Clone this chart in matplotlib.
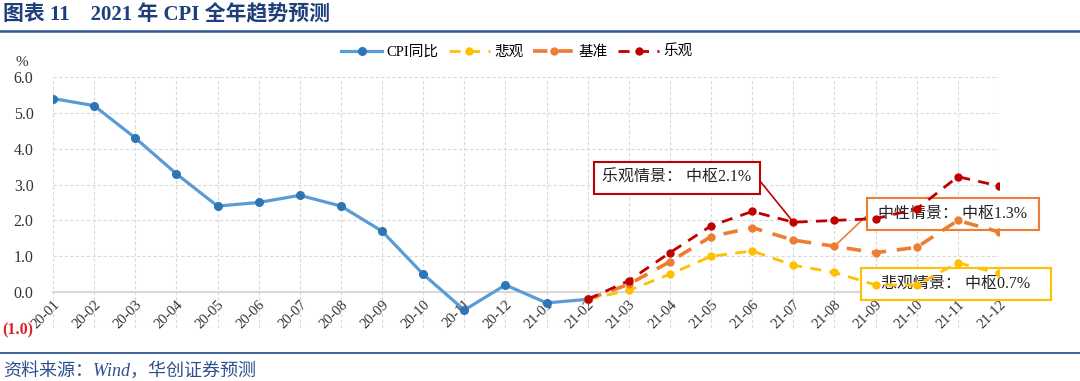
import matplotlib
matplotlib.use("Agg")
import matplotlib.pyplot as plt
from matplotlib.lines import Line2D

plt.rcParams['font.family'] = ['Liberation Serif', 'Noto Sans CJK SC', 'DejaVu Sans']

# ---------------- data ----------------
months = ["20-01", "20-02", "20-03", "20-04", "20-05", "20-06", "20-07", "20-08",
          "20-09", "20-10", "20-11", "20-12", "21-01", "21-02", "21-03", "21-04",
          "21-05", "21-06", "21-07", "21-08", "21-09", "21-10", "21-11", "21-12"]
cpi_actual = [5.4, 5.2, 4.3, 3.3, 2.4, 2.5, 2.7, 2.4, 1.7, 0.5, -0.5, 0.2, -0.3, -0.2]
forecast_months = months[13:]
pessimistic = [-0.2, 0.05, 0.5, 1.0, 1.15, 0.75, 0.55, 0.2, 0.2, 0.82, 0.52]
baseline = [-0.2, 0.22, 0.85, 1.55, 1.8, 1.45, 1.28, 1.1, 1.25, 2.0, 1.68]
optimistic = [-0.2, 0.32, 1.1, 1.85, 2.25, 1.95, 2.0, 2.05, 2.32, 3.22, 2.96]
series_names = ["CPI同比", "悲观", "基准", "乐观"]
y_ticks = [-1, 0, 1, 2, 3, 4, 5, 6]
y_ticklabels = ["(1.0)", "0.0", "1.0", "2.0", "3.0", "4.0", "5.0", "6.0"]
notes = ["乐观情景： 中枢2.1%", " 中性情景： 中枢1.3% ", "   悲观情景： 中枢0.7%   "]

# ---------------- figure ----------------
W, H = 1080, 381
fig = plt.figure(figsize=(W / 100, H / 100), dpi=100)
ax = fig.add_axes([53 / W, 1 - 328 / H, (999 - 53) / W, (328 - 77) / H])

c_blue, c_blue_m = "#5B9BD5", "#2E75B6"
c_yel, c_ora, c_red = "#FFC000", "#ED7D31", "#C00000"

xa = list(range(len(cpi_actual)))
xf = [months.index(m) for m in forecast_months]

ax.plot(xa, cpi_actual, color=c_blue, lw=2.3, marker="o", ms=5.5,
        mfc=c_blue_m, mec=c_blue_m, zorder=4, label=series_names[0])
ax.plot(xf, pessimistic, color=c_yel, lw=2.0, ls=(0, (4, 3)), marker="o", ms=5,
        mfc=c_yel, mec=c_yel, zorder=5, label=series_names[1])
ax.plot(xf, baseline, color=c_ora, lw=2.6, ls=(0, (4, 3)), marker="o", ms=5,
        mfc=c_ora, mec=c_ora, zorder=6, label=series_names[2])
ax.plot(xf, optimistic, color=c_red, lw=2.0, ls=(0, (4, 3)), marker="o", ms=5,
        mfc=c_red, mec=c_red, zorder=7, label=series_names[3])

ax.set_xlim(0, len(months) - 1)
ax.set_ylim(-1, 6)
ax.set_axisbelow(True)
ax.grid(True, color="#D9D9D9", lw=0.8, ls=(0, (3, 2)))
for s in ["top", "right", "left"]:
    ax.spines[s].set_visible(False)
ax.spines["bottom"].set_position(("data", 0))
ax.spines["bottom"].set_color("#D9D9D9")
ax.spines["bottom"].set_linewidth(1.5)

ax.set_xticks(range(len(months)))
ax.set_xticklabels(months, rotation=45, ha="right", va="top",
                   rotation_mode="anchor", fontsize=10.5, color="#333333")
ax.tick_params(axis="x", length=0, pad=4)
ax.set_yticks(y_ticks)
ax.set_yticklabels(y_ticklabels, fontsize=11.5, color="#333333")
ax.tick_params(axis="y", length=0, pad=14)
ax.get_yticklabels()[0].set_color("#E02020")
ax.get_yticklabels()[0].set_fontweight("bold")

fig.text(22 / W, 1 - 63 / H, "%", ha="center", va="center", fontsize=11, color="#333333")

# legend
fig.legend(loc="center", bbox_to_anchor=(517 / W, 1 - 52 / H), ncol=4, frameon=False,
           fontsize=10.5, handlelength=2.8, handletextpad=0.3, columnspacing=0.7)

# annotation boxes
box_kw = dict(boxstyle="square,pad=0.5", fc="white", lw=1.5)
ax.annotate(notes[0], xy=(months.index("21-07"), optimistic[5]),
            xytext=(677, H - 178), textcoords="figure pixels",
            ha="center", va="center", fontsize=11.5, color="#222222",
            bbox=dict(ec=c_red, **box_kw), zorder=3, annotation_clip=False,
            arrowprops=dict(arrowstyle="-", color=c_red, lw=1.2, relpos=(1, 0.5),
                            shrinkA=0, shrinkB=3,
                            connectionstyle="arc,angleA=0,armA=6,angleB=0,armB=0,rad=0"))
ax.annotate(notes[1], xy=(months.index("21-08"), baseline[6]),
            xytext=(953, H - 214), textcoords="figure pixels",
            ha="center", va="center", fontsize=11.5, color="#222222",
            bbox=dict(ec=c_ora, **box_kw), zorder=3, annotation_clip=False,
            arrowprops=dict(arrowstyle="-", color=c_ora, lw=1.2, relpos=(0, 0.5),
                            shrinkA=0, shrinkB=3,
                            connectionstyle="arc,angleA=180,armA=6,angleB=0,armB=0,rad=0"))
ax.annotate(notes[2], xy=(956, H - 284), xycoords="figure pixels",
            ha="center", va="center", fontsize=11.5, color="#222222",
            bbox=dict(ec=c_yel, **box_kw), zorder=3, annotation_clip=False)

# header / footer
fig.text(3 / W, 1 - 15 / H, "图表 11    2021 年 CPI 全年趋势预测", ha="left", va="center",
         fontsize=15, fontweight="bold", color="#1F3F7A")
fig.add_artist(Line2D([0, 1], [1 - 31 / H, 1 - 31 / H], transform=fig.transFigure,
                      color="#2F5597", lw=1.8))
fig.add_artist(Line2D([0, 1], [1 - 353 / H, 1 - 353 / H], transform=fig.transFigure,
                      color="#2F5597", lw=1.3))
fig.text(3 / W, 1 - 371 / H, "资料来源：Wind，华创证券预测", ha="left", va="center",
         fontsize=13, style="italic", color="#2F4F8F")

fig.savefig("out.png", dpi=100)
